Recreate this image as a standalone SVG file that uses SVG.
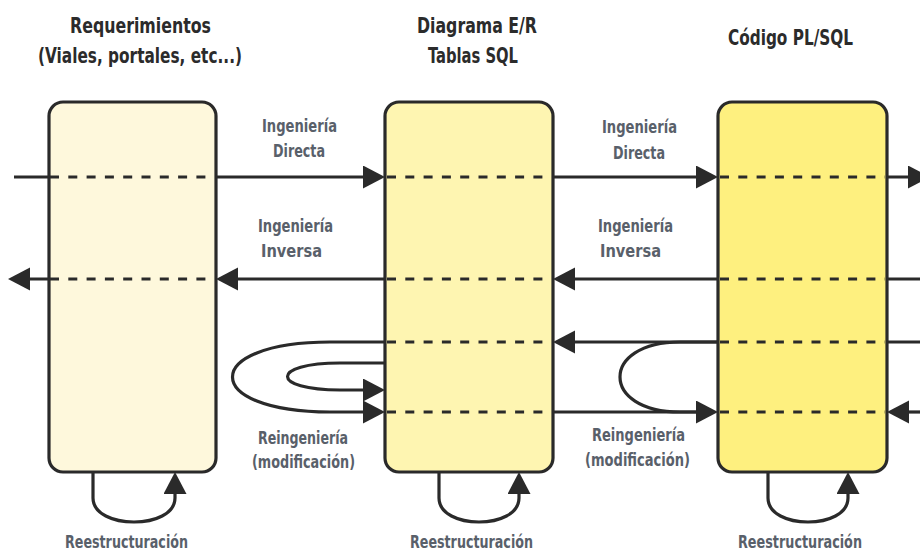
<svg xmlns="http://www.w3.org/2000/svg" width="920" height="551" viewBox="0 0 920 551">
<defs>
<style>
.box{stroke:#2a2a2a;stroke-width:3.2}
.ln{fill:none;stroke:#2a2a2a;stroke-width:3.2}
.ar{marker-end:url(#ah)}
.dash{fill:none;stroke:#2a2a2a;stroke-width:3.2;stroke-dasharray:9 9.3}
.title{font-family:"DejaVu Sans Condensed","DejaVu Sans",sans-serif;font-stretch:condensed;font-weight:bold;font-size:21.5px;fill:#2b2b2b;text-anchor:middle}
.lbl{font-family:"DejaVu Sans Condensed","DejaVu Sans",sans-serif;font-stretch:condensed;font-weight:bold;font-size:17.5px;fill:#59606a;text-anchor:middle}
</style>
<marker id="ah" markerUnits="userSpaceOnUse" markerWidth="24" markerHeight="24" refX="18" refY="11.5" orient="auto" viewBox="0 0 24 24">
<path d="M0,0 L22,11.5 L0,23 Z" fill="#2a2a2a"/>
</marker>
</defs>
<rect width="920" height="551" fill="#ffffff"/>

<g id="titles">
<text class="title" x="140.5" y="33" textLength="141" lengthAdjust="spacingAndGlyphs">Requerimientos</text>
<text class="title" x="140" y="63" textLength="204" lengthAdjust="spacingAndGlyphs">(Viales, portales, etc...)</text>
<text class="title" x="477" y="33" textLength="120" lengthAdjust="spacingAndGlyphs">Diagrama E/R</text>
<text class="title" x="473" y="63" textLength="90" lengthAdjust="spacingAndGlyphs">Tablas SQL</text>
<text class="title" x="790.5" y="45" textLength="125" lengthAdjust="spacingAndGlyphs">Código PL/SQL</text>
</g>

<g id="node-requerimientos">
<rect class="box" x="49" y="102" width="167" height="370" rx="14" fill="#fef8dc"/>
</g>
<g id="node-diagrama">
<rect class="box" x="385" y="102" width="168" height="370" rx="14" fill="#fef5b1"/>
</g>
<g id="node-codigo">
<rect class="box" x="718" y="102" width="169" height="370" rx="14" fill="#fef07f"/>
</g>

<g id="connectors">
<path class="ln" d="M14,177 H49"/>
<path class="ln ar" d="M216,177 H381"/>
<path class="ln ar" d="M553,177 H714"/>
<path class="ln ar" d="M887,177 H926"/>
<path class="ln" d="M922,279 H887"/>
<path class="ln ar" d="M718,279 H557"/>
<path class="ln ar" d="M385,279 H220"/>
<path class="ln ar" d="M49,279 H12"/>
<path class="ln" d="M922,342 H887"/>
<path class="ln ar" d="M718,342 H557"/>
<path class="ln ar" d="M922,412 H891"/>
<path class="ln ar" d="M553,412 H714"/>
<path class="ln" d="M718,342 H680 C600,342 600,412 680,412 H700"/>
<path class="ln ar" d="M385,342 H330 C200,342 200,412 330,412 H381"/>
<path class="ln ar" d="M385,363 H340 C270,363 270,390 340,390 H381"/>
<path class="ln ar" d="M93,472 V498 C93,530 175,530 175,498 V476"/>
<path class="ln ar" d="M439,472 V498 C439,530 519,530 519,498 V476"/>
<path class="ln ar" d="M768,472 V498 C768,530 848,530 848,498 V476"/>
<path class="dash" d="M50,177 H214 M50,279 H214"/>
<path class="dash" d="M387,177 H551 M387,279 H551 M387,342 H551 M387,412 H551"/>
<path class="dash" d="M720,177 H885 M720,279 H885 M720,342 H885 M720,412 H885"/>
</g>

<g id="labels">
<text class="lbl" x="299.5" y="132" textLength="75" lengthAdjust="spacingAndGlyphs">Ingeniería</text>
<text class="lbl" x="299" y="157" textLength="52" lengthAdjust="spacingAndGlyphs">Directa</text>
<text class="lbl" x="639.5" y="133" textLength="75" lengthAdjust="spacingAndGlyphs">Ingeniería</text>
<text class="lbl" x="639" y="159" textLength="52" lengthAdjust="spacingAndGlyphs">Directa</text>
<text class="lbl" x="295.5" y="232" textLength="75" lengthAdjust="spacingAndGlyphs">Ingeniería</text>
<text class="lbl" x="291.5" y="257" textLength="61" lengthAdjust="spacingAndGlyphs">Inversa</text>
<text class="lbl" x="635.5" y="232" textLength="75" lengthAdjust="spacingAndGlyphs">Ingeniería</text>
<text class="lbl" x="630.5" y="257" textLength="61" lengthAdjust="spacingAndGlyphs">Inversa</text>
<text class="lbl" x="303" y="444" textLength="90" lengthAdjust="spacingAndGlyphs">Reingeniería</text>
<text class="lbl" x="303.5" y="468" textLength="103" lengthAdjust="spacingAndGlyphs">(modificación)</text>
<text class="lbl" x="638.5" y="441" textLength="93" lengthAdjust="spacingAndGlyphs">Reingeniería</text>
<text class="lbl" x="637.5" y="466" textLength="105" lengthAdjust="spacingAndGlyphs">(modificación)</text>
<text class="lbl" x="126.5" y="548" textLength="123" lengthAdjust="spacingAndGlyphs">Reestructuración</text>
<text class="lbl" x="471.5" y="548" textLength="123" lengthAdjust="spacingAndGlyphs">Reestructuración</text>
<text class="lbl" x="800" y="548" textLength="124" lengthAdjust="spacingAndGlyphs">Reestructuración</text>
</g>
</svg>
